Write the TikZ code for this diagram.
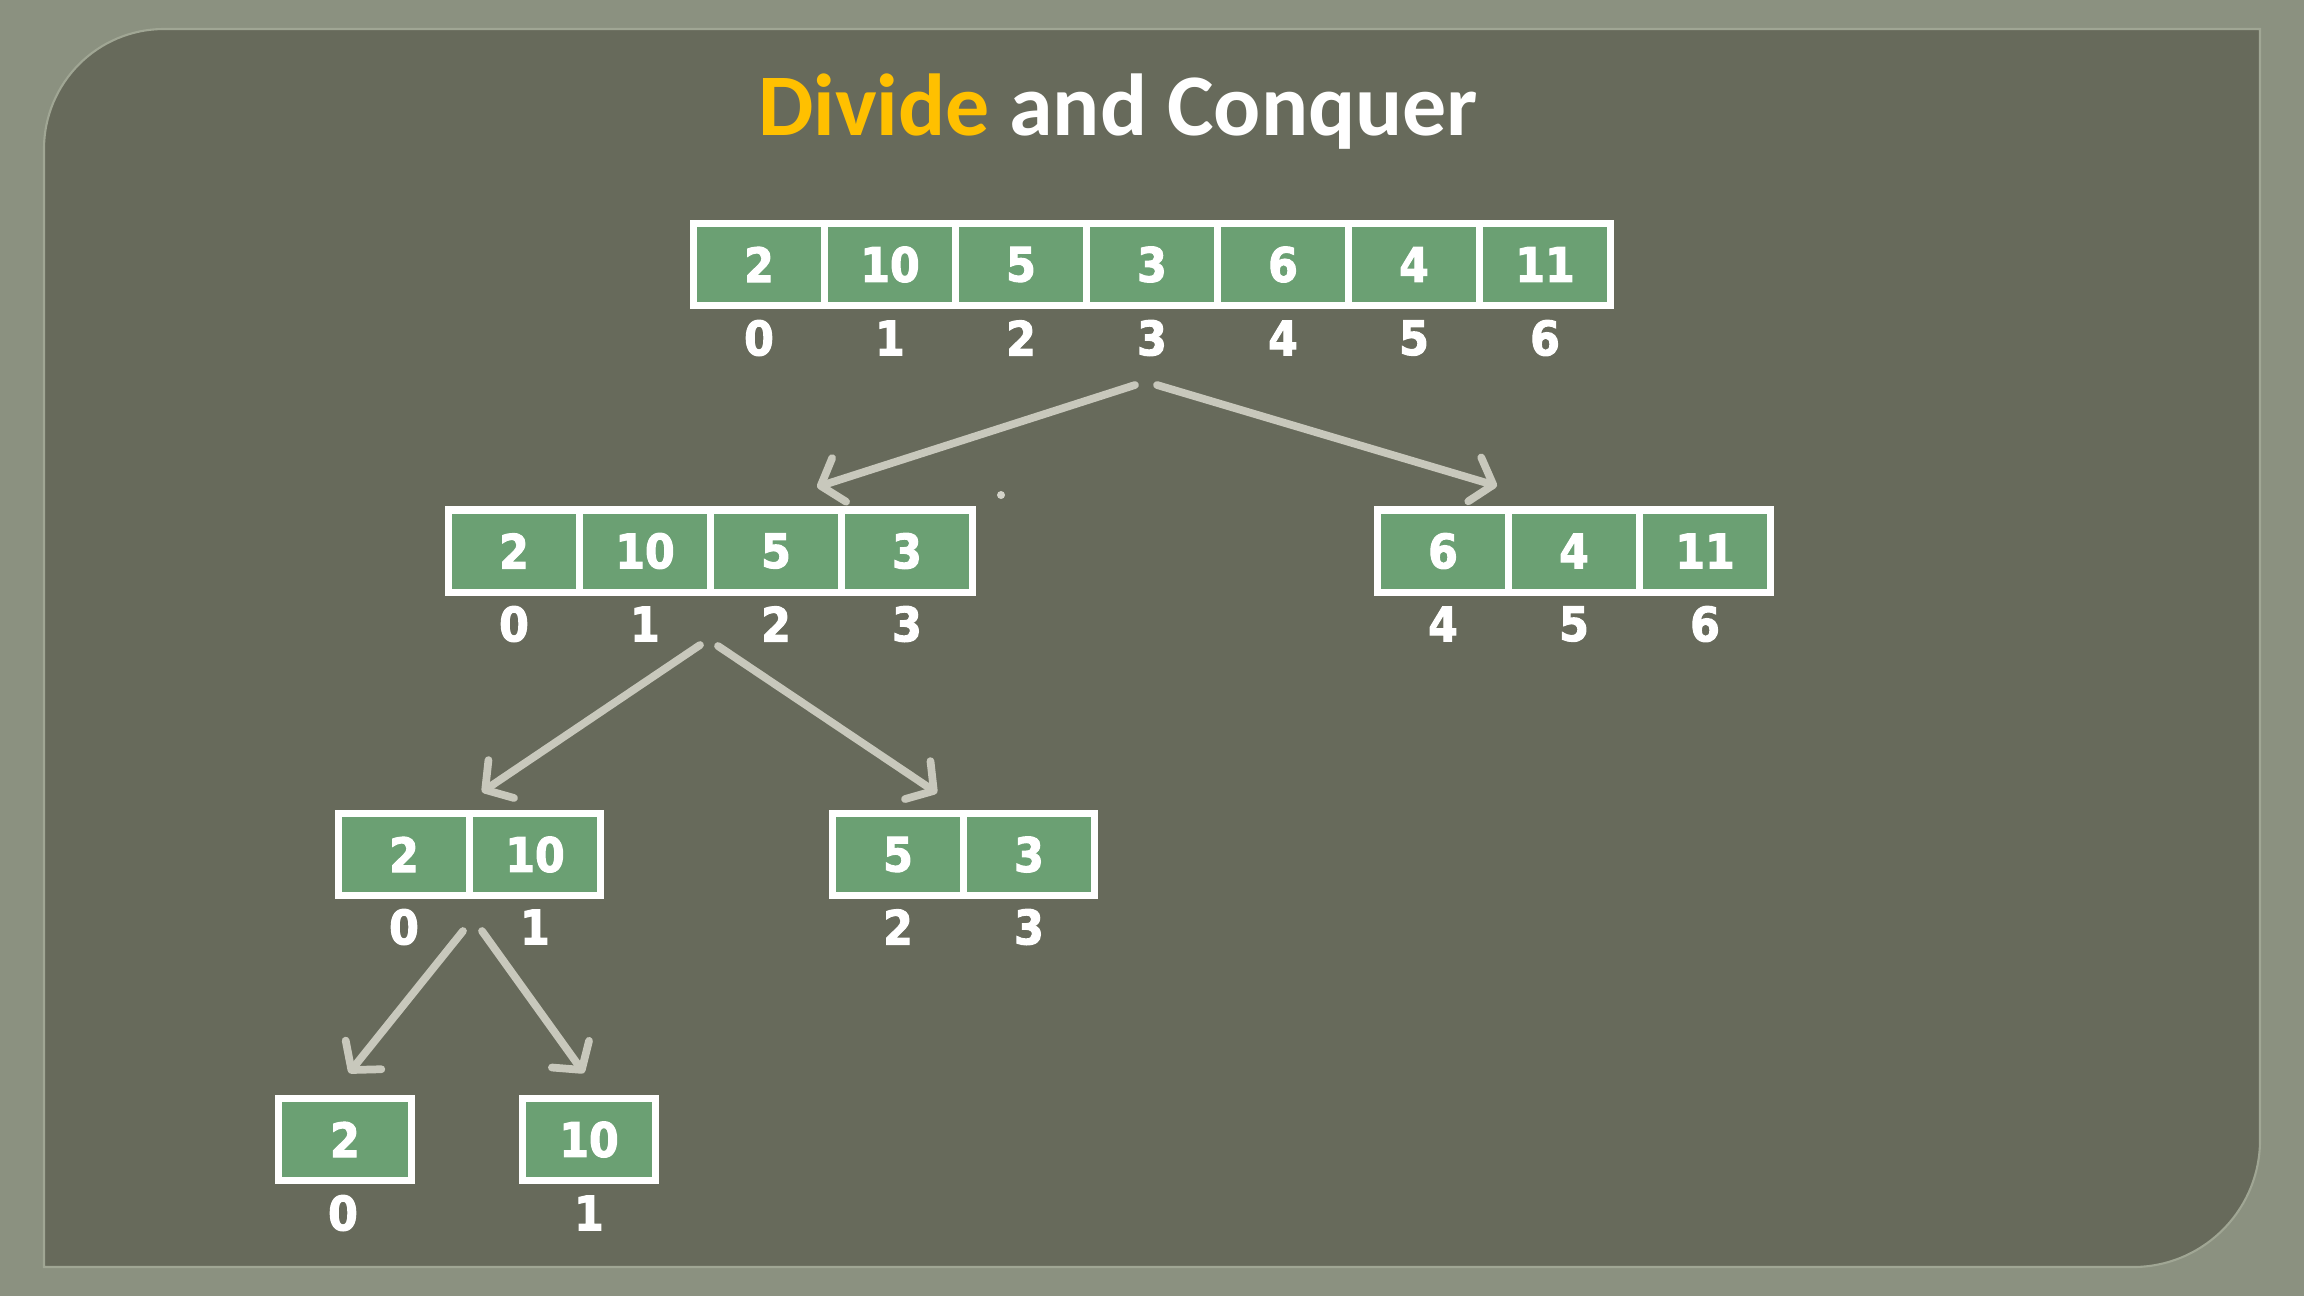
\documentclass[tikz,border=0pt]{standalone}
\usepackage{fontspec}
\setmainfont{DejaVu Sans}
\newfontfamily\titlefont{Carlito}
\newfontfamily\digitfont{DejaVu Sans Condensed}[FakeBold=2.2]
\usetikzlibrary{arrows.meta}
\definecolor{outerbg}{RGB}{139,145,128}
\definecolor{panelbg}{RGB}{103,106,91}
\definecolor{paneledge}{RGB}{160,166,148}
\definecolor{cellgreen}{RGB}{107,160,115}
\definecolor{arrowgray}{RGB}{200,200,188}
\definecolor{titlegold}{RGB}{255,192,0}
\begin{document}
\begin{tikzpicture}[x=0.01cm,y=-0.01cm,
  cell/.style={draw=white, line width=2pt, fill=cellgreen,
    minimum width=1.31cm, minimum height=0.82cm, inner sep=0pt,
    text=white, font=\digitfont\bfseries\fontsize{13.5}{13.5}\selectfont},
  single/.style={cell, minimum width=1.32cm},
  idx/.style={text=white, inner sep=0pt, font=\digitfont\bfseries\fontsize{13.5}{13.5}\selectfont},
  split/.style={draw=arrowgray, line width=2.2pt, line cap=round,
    -{Straight Barb[length=5.5pt,width=13pt,round]}}
]
% page and panel
\useasboundingbox (0,0) rectangle (2304,1296);
\fill[outerbg] (0,0) rectangle (2304,1296);
\fill[panelbg, draw=paneledge, line width=0.6pt]
  (44,149) .. controls (44,82.7) and (97.7,29) .. (164,29)
  -- (2260,29) -- (2260,1140)
  .. controls (2260,1210.1) and (2203.1,1267) .. (2133,1267)
  -- (44,1267) -- cycle;

% title
\node[anchor=base, inner sep=0pt, font=\titlefont\bfseries\fontsize{25}{25}\selectfont]
  (title) at (1118,135) {\textcolor{titlegold}{Divide} \textcolor{white}{and Conquer}};

% full array
\foreach \v [count=\i from 0] in {2,10,5,3,6,4,11} {
  \node[cell] (a\i) at ({759+131*\i},264.5) {\v};
  \node[idx] (ia\i) at ({759+131*\i},338) {\i};
}
% left half
\foreach \v [count=\i from 0] in {2,10,5,3} {
  \node[cell] (b\i) at ({514+131*\i},551) {\v};
  \node[idx] (ib\i) at ({514+131*\i},624) {\i};
}
% right half
\foreach \v [count=\i from 0] in {6,4,11} {
  \pgfmathtruncatemacro{\k}{\i+4}
  \node[cell] (c\i) at ({1443+131*\i},551) {\v};
  \node[idx] (ic\i) at ({1443+131*\i},624) {\k};
}
% quarters
\foreach \v [count=\i from 0] in {2,10} {
  \node[cell] (d\i) at ({404+131*\i},854.5) {\v};
  \node[idx] (id\i) at ({404+131*\i},927) {\i};
}
\foreach \v [count=\i from 0] in {5,3} {
  \pgfmathtruncatemacro{\k}{\i+2}
  \node[cell] (e\i) at ({898+131*\i},854.5) {\v};
  \node[idx] (ie\i) at ({898+131*\i},927) {\k};
}
% single elements
\node[single] (f0) at (345,1139.5) {2};
\node[idx] (if0) at (343,1213) {0};
\node[single] (f1) at (589,1139.5) {10};
\node[idx] (if1) at (589,1213) {1};

% split arrows
\coordinate (s1) at (1135,385); \coordinate (t1) at (817,487);
\coordinate (s2) at (1157,385); \coordinate (t2) at (1497,486);
\coordinate (s3) at (700,645);  \coordinate (t3) at (482,792);
\coordinate (s4) at (718,646);  \coordinate (t4) at (937,793);
\coordinate (s5) at (463,931);  \coordinate (t5) at (349,1073);
\coordinate (s6) at (482,931);  \coordinate (t6) at (584,1073);
\foreach \n in {1,...,6} { \draw[split] (s\n) -- (t\n); }

% small speck
\fill[arrowgray!80!white] (1001,495) circle (4);
\end{tikzpicture}
\end{document}
